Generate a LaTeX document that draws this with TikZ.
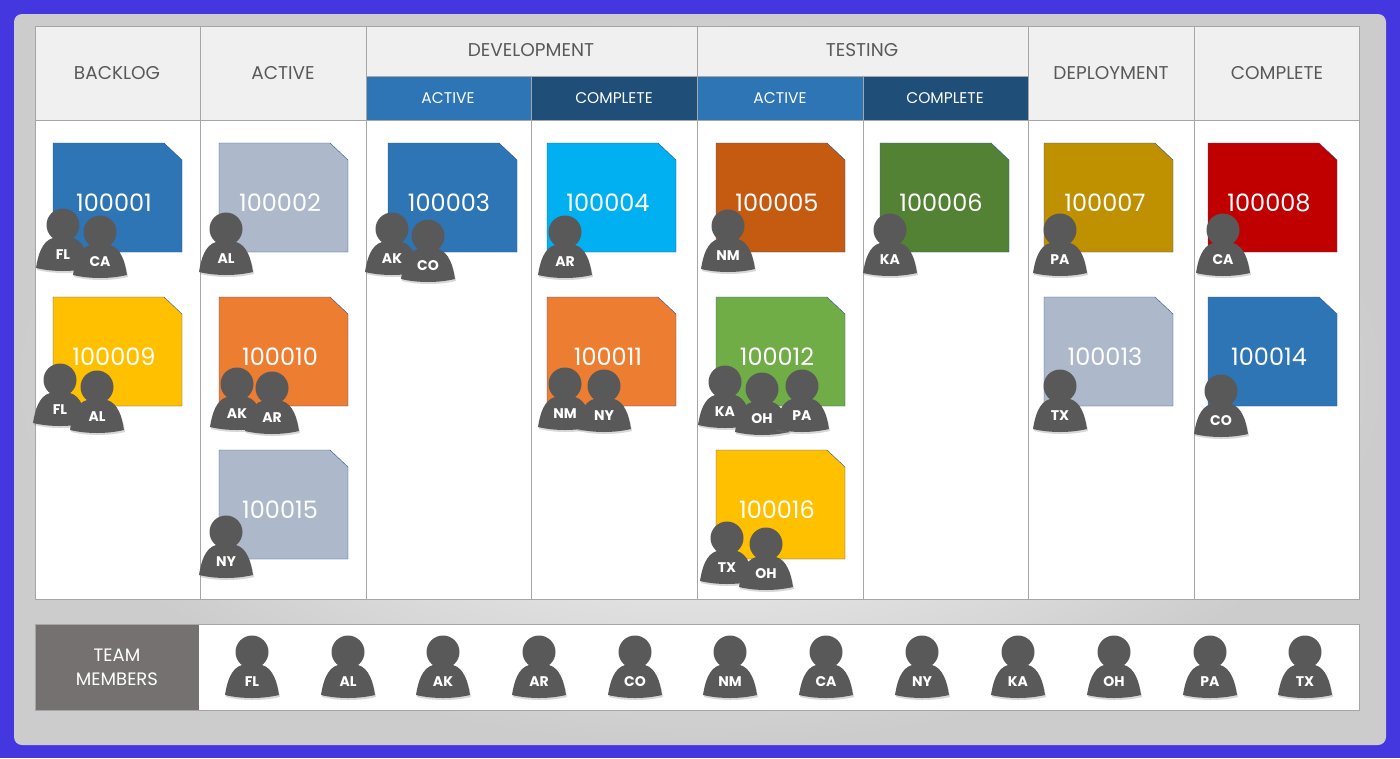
\documentclass[tikz,border=0pt]{standalone}
\usepackage{fontspec}
\setmainfont{Poppins}
\usetikzlibrary{shadows}
\definecolor{bgblue}{HTML}{4437E0}
\definecolor{hdrtxt}{HTML}{595959}
\definecolor{grid}{HTML}{A6A6A6}
\definecolor{subA}{HTML}{2E75B6}
\definecolor{subB}{HTML}{1F4E79}
\definecolor{pers}{HTML}{595959}
\definecolor{cbord}{HTML}{2F5597}
\definecolor{teamlab}{HTML}{767171}
\tikzset{
  hdr/.style={font=\fontsize{18.5}{20}\selectfont, text=hdrtxt},
  sub/.style={font=\fontsize{15.5}{17}\selectfont, text=white},
  cardnum/.style={font=\fontsize{24}{26}\selectfont, text=white},
  plabel/.style={font=\bfseries\fontsize{14}{15}\selectfont, text=white},
  person/.pic={
    \fill[pers, drop shadow={shadow xshift=1pt,shadow yshift=-2pt,opacity=0.3}]
      (-27,43) .. controls (-25,30) and (-21,16) .. (-10,13) -- (10,13)
      .. controls (21,16) and (25,30) .. (27,43)
      .. controls (10,47) and (-10,47) .. (-27,43) -- cycle;
    \fill[pers] (0,0) circle (16.5);
    \node[plabel] at (0,30) {\tikzpictext};
  }
}
\begin{document}
\begin{tikzpicture}[x=1pt,y=-1pt]
\fill[bgblue] (0,0) rectangle (1400,758);
\shade[inner color=white, outer color=gray!40, rounded corners=8] (14,14) rectangle (1386,745);
% main table
\fill[white] (35,26) rectangle (1359,599);
\fill[gray!12] (35,26) rectangle (1359,120);
\fill[subA] (366,76) rectangle (531,120);
\fill[subB] (531,76) rectangle (697,120);
\fill[subA] (697,76) rectangle (863,120);
\fill[subB] (863,76) rectangle (1028,120);
\draw[grid] (35,26) rectangle (1359,599);
\draw[grid] (35,120) -- (1359,120);
\draw[grid] (366,76) -- (1028,76);
\foreach \x in {200,366,697,1028,1194} \draw[grid] (\x,26) -- (\x,599);
\foreach \x in {531,863} \draw[grid] (\x,76) -- (\x,599);
\node[hdr] (h1) at (117,73) {BACKLOG};
\node[hdr] (h2) at (283,73) {ACTIVE};
\node[hdr] (h3) at (531,50) {DEVELOPMENT};
\node[hdr] (h4) at (862,50) {TESTING};
\node[hdr] (h5) at (1111,73) {DEPLOYMENT};
\node[hdr] (h6) at (1277,73) {COMPLETE};
\node[sub] (s1) at (448,98) {ACTIVE};
\node[sub] (s2) at (614,98) {COMPLETE};
\node[sub] (s3) at (780,98) {ACTIVE};
\node[sub] (s4) at (945,98) {COMPLETE};
% cards
\foreach \x/\y/\c/\n in {
 53/143/2E75B6/100001, 219/143/ADB9CA/100002, 388/143/2E75B6/100003, 547/143/00B0F0/100004,
 716/143/C55A11/100005, 880/143/548235/100006, 1044/143/BF9000/100007, 1208/143/C00000/100008,
 53/297/FFC000/100009, 219/297/ED7D31/100010, 547/297/ED7D31/100011, 716/297/70AD47/100012,
 1044/297/ADB9CA/100013, 1208/297/2E75B6/100014, 219/450/ADB9CA/100015, 716/450/FFC000/100016}{
  \definecolor{cc}{HTML}{\c}
  \draw[cbord, fill=cc] (\x,\y) -- (\x+111,\y) -- (\x+129,\y+17) -- (\x+129,\y+109) -- (\x,\y+109) -- cycle;
  \node[cardnum] (c\n) at (\x+61,\y+60) {\n};
}
% people on cards
\foreach \x/\y/\t in {
 63/225/FL, 100/232/CA, 226/229/AL, 392/229/AK, 428/236/CO, 565/232/AR, 728/226/NM,
 890/230/KA, 1060/230/PA, 1223/230/CA,
 60/380/FL, 97/387/AL, 237/384/AK, 272/388/AR, 565/384/NM, 604/386/NY,
 725/382/KA, 762/389/OH, 802/386/PA, 1060/386/TX, 1221/391/CO,
 226/532/NY, 727/538/TX, 766/544/OH}{
  \pic[pic text=\t] at (\x,\y) {person};
}
% team bar
\fill[white] (35,624) rectangle (1359,710);
\fill[teamlab] (35,624) rectangle (199,710);
\draw[grid] (35,624) rectangle (1359,710);
\node[align=center, font=\fontsize{18}{24}\selectfont, text=white] (team) at (117,667) {TEAM\\MEMBERS};
\foreach \x/\t in {252/FL,348/AL,443/AK,539/AR,635/CO,730/NM,826/CA,922/NY,1018/KA,1114/OH,1210/PA,1305/TX}{
  \pic[pic text=\t] at (\x,652) {person};
}
\end{tikzpicture}
\end{document}
